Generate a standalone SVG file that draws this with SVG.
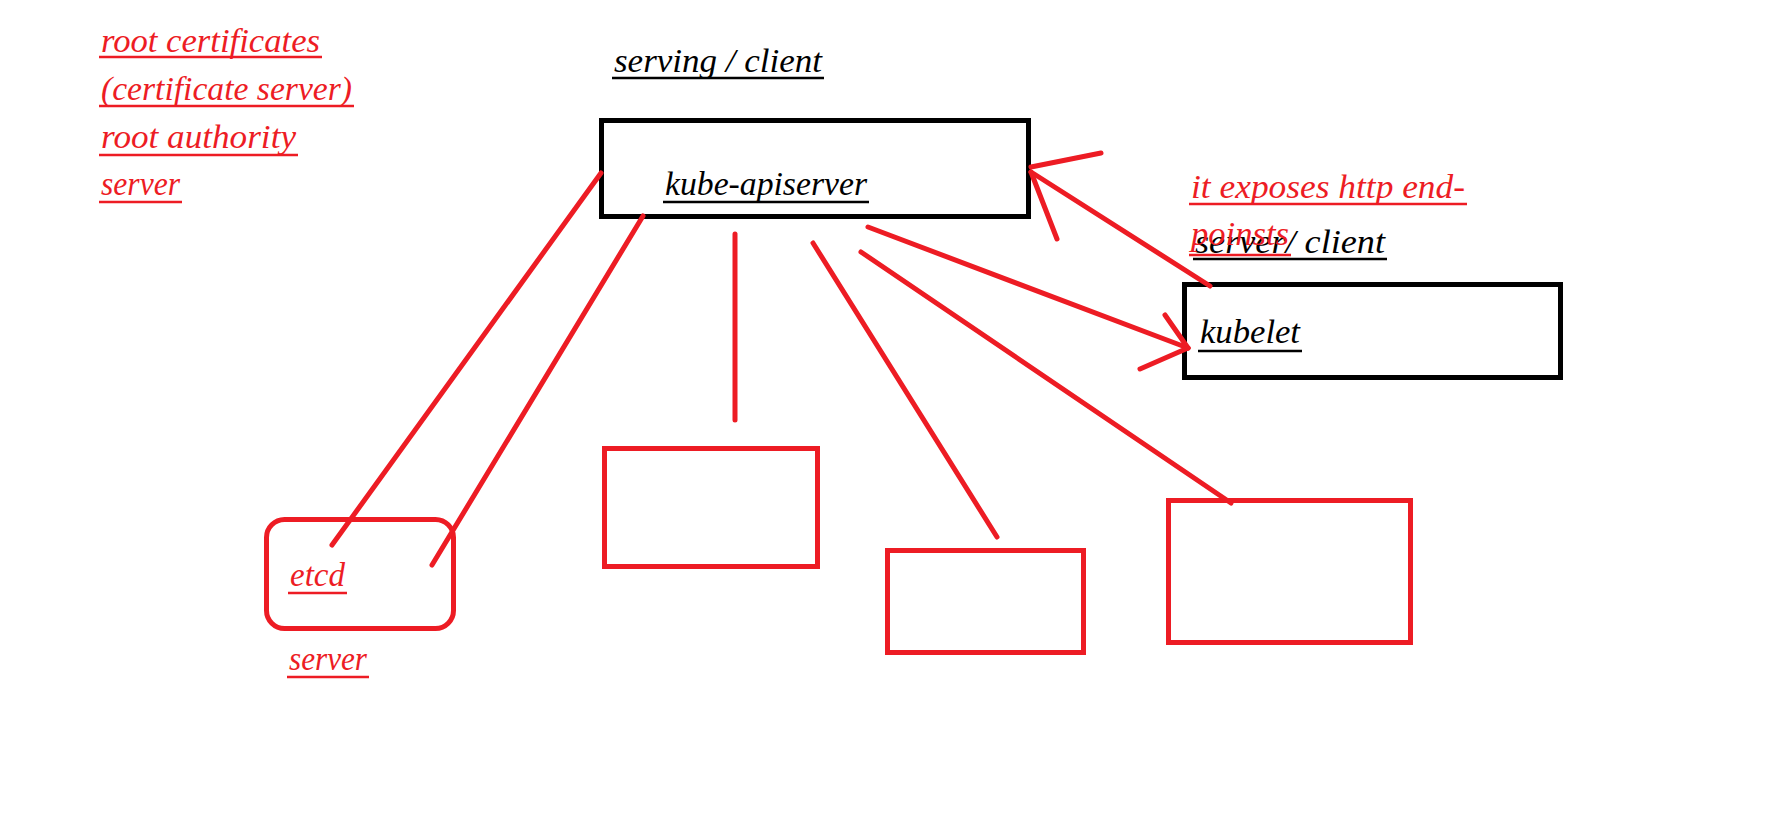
<svg xmlns="http://www.w3.org/2000/svg" width="1771" height="831" viewBox="0 0 1771 831">
<style>
  .bg{fill:#ffffff}
  .t{font-family:"Liberation Serif","DejaVu Serif",serif;font-style:italic;font-size:33px}
  .red{fill:#ED1C24}
  .blk{fill:#000000}
  .ulr{stroke:#ED1C24;stroke-width:2.5}
  .ulb{stroke:#000000;stroke-width:2.5}
  .boxb{fill:none;stroke:#000000;stroke-width:5}
  .boxr{fill:none;stroke:#ED1C24;stroke-width:5}
  .c{fill:none;stroke:#ED1C24;stroke-width:5;stroke-linecap:round}
</style>
<rect class="bg" x="0" y="0" width="1771" height="831"/>

<g id="notes-root">
  <text class="t red" x="101" y="52" textLength="219" lengthAdjust="spacingAndGlyphs">root certificates</text>
  <line class="ulr" x1="99" y1="57" x2="322" y2="57"/>
  <text class="t red" x="101" y="100" textLength="251" lengthAdjust="spacingAndGlyphs">(certificate server)</text>
  <line class="ulr" x1="99" y1="106" x2="354" y2="106"/>
  <text class="t red" x="101" y="148" textLength="195" lengthAdjust="spacingAndGlyphs">root authority</text>
  <line class="ulr" x1="99" y1="155" x2="298" y2="155"/>
  <text class="t red" x="101" y="195" textLength="79" lengthAdjust="spacingAndGlyphs">server</text>
  <line class="ulr" x1="99" y1="202" x2="182" y2="202"/>
</g>

<g id="label-serving">
  <text class="t blk" x="614" y="72" textLength="208" lengthAdjust="spacingAndGlyphs">serving / client</text>
  <line class="ulb" x1="612" y1="78" x2="824" y2="78"/>
</g>

<g id="kube-apiserver">
  <rect class="boxb" x="601.5" y="120.5" width="427" height="96"/>
  <text class="t blk" x="665" y="195" textLength="202" lengthAdjust="spacingAndGlyphs">kube-apiserver</text>
  <line class="ulb" x1="663" y1="202" x2="869" y2="202"/>
</g>

<g id="label-exposes">
  <text class="t red" x="1191" y="198" textLength="274" lengthAdjust="spacingAndGlyphs">it exposes http end-</text>
  <line class="ulr" x1="1189" y1="204" x2="1467" y2="204"/>
</g>

<g id="label-server-client">
  <text class="t blk" x="1195" y="253" textLength="190" lengthAdjust="spacingAndGlyphs">server/ client</text>
  <line class="ulb" x1="1193" y1="259" x2="1387" y2="259"/>
</g>

<g id="label-poinsts">
  <text class="t red" x="1191" y="245" textLength="98" lengthAdjust="spacingAndGlyphs">poinsts</text>
  <line class="ulr" x1="1189" y1="255" x2="1291" y2="255"/>
</g>

<g id="kubelet">
  <rect class="boxb" x="1184.5" y="284.5" width="376" height="93"/>
  <text class="t blk" x="1200" y="343" textLength="100" lengthAdjust="spacingAndGlyphs">kubelet</text>
  <line class="ulb" x1="1198" y1="351" x2="1302" y2="351"/>
</g>

<g id="etcd">
  <rect class="boxr" x="266.5" y="519.5" width="187" height="109" rx="18" ry="18"/>
  <text class="t red" x="290" y="586" textLength="55" lengthAdjust="spacingAndGlyphs">etcd</text>
  <line class="ulr" x1="288" y1="593" x2="347" y2="593"/>
</g>

<g id="label-etcd-server">
  <text class="t red" x="289" y="670" textLength="78" lengthAdjust="spacingAndGlyphs">server</text>
  <line class="ulr" x1="287" y1="677" x2="369" y2="677"/>
</g>

<g id="box-2">
  <rect class="boxr" x="604.5" y="448.5" width="213" height="118"/>
</g>
<g id="box-3">
  <rect class="boxr" x="887.5" y="550.5" width="196" height="102"/>
</g>
<g id="box-4">
  <rect class="boxr" x="1168.5" y="500.5" width="242" height="142"/>
</g>

<g id="connectors">
  <line class="c" x1="601" y1="173" x2="332" y2="545"/>
  <line class="c" x1="643" y1="216" x2="432" y2="565"/>
  <line class="c" x1="735" y1="234" x2="735" y2="420"/>
  <line class="c" x1="813" y1="243" x2="997" y2="537"/>
  <line class="c" x1="861" y1="252" x2="1231" y2="503"/>
  <!-- apiserver to kubelet -->
  <line class="c" x1="868" y1="227" x2="1188" y2="348"/>
  <line class="c" x1="1188" y1="348" x2="1165" y2="315"/>
  <line class="c" x1="1188" y1="348" x2="1140" y2="369"/>
  <!-- kubelet to apiserver -->
  <line class="c" x1="1210" y1="286" x2="1031" y2="172"/>
  <line class="c" x1="1031" y1="167" x2="1101" y2="153"/>
  <line class="c" x1="1031" y1="172" x2="1057" y2="239"/>
</g>
</svg>
